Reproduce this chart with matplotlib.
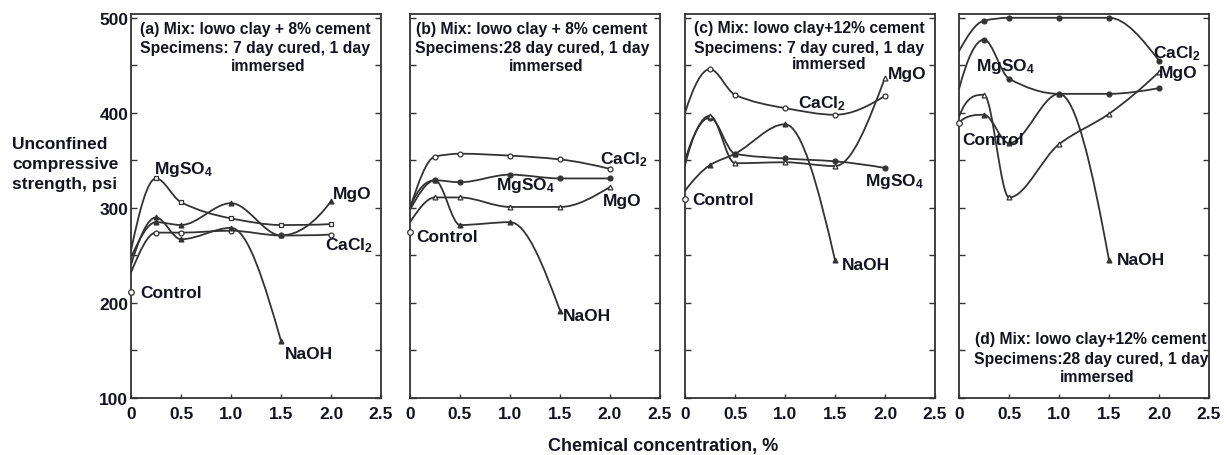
import numpy as np
import matplotlib.pyplot as plt
from matplotlib.path import Path
from matplotlib.patches import PathPatch
from matplotlib.ticker import MultipleLocator

plt.rcParams['font.family'] = ['Liberation Sans', 'DejaVu Sans']
plt.rcParams['font.weight'] = 'bold'
plt.rcParams['mathtext.fontset'] = 'custom'
plt.rcParams['mathtext.rm'] = 'Liberation Sans:bold'
plt.rcParams['mathtext.bf'] = 'Liberation Sans:bold'
plt.rcParams['mathtext.default'] = 'bf'

# chemical concentration, %
conc = [0, 0.25, 0.5, 1.0, 1.5, 2.0]

# unconfined compressive strength, psi
a_cacl2 = [232, 274, 274, 276, 271, 272]
a_mgso4 = [255, 331, 306, 289, 282, 283]
a_mgo = [248, 285, 282, 305, 271, 307]
a_naoh = [240, 290, 267, 279, 160]
a_control = 211

b_cacl2 = [300, 354, 357, 355, 351, 341]
b_mgso4 = [298, 329, 327, 335, 331, 331]
b_mgo = [285, 311, 311, 301, 301, 322]
b_naoh = [300, 329, 282, 285, 192]
b_control = 275

c_cacl2 = [400, 446, 419, 405, 398, 418]
c_mgso4 = [350, 395, 357, 352, 349, 342]
c_mgo = [345, 397, 347, 348, 344, 437]
c_naoh = [318, 345, 357, 388, 245]
c_control = 309

d_cacl2 = [465, 497, 500, 500, 500, 455]
d_mgso4 = [425, 477, 436, 420, 420, 426]
d_mgo = [396, 419, 311, 367, 399, 443]
d_naoh = [390, 398, 368, 420, 245]
d_control = 389

titles = [
    ['(a) Mix: lowo clay + 8% cement', 'Specimens: 7 day cured, 1 day', 'immersed'],
    ['(b) Mix: lowo clay + 8% cement', 'Specimens:28 day cured, 1 day', 'immersed'],
    ['(c) Mix: lowo clay+12% cement', 'Specimens: 7 day cured, 1 day', 'immersed'],
    ['(d) Mix: lowo clay+12% cement', 'Specimens:28 day cured, 1 day', 'immersed'],
]

LINE = '#333333'
INK = '#141420'


def slopes(x, y):
    # shape-preserving tangents (flat at local peaks and dips)
    h = np.diff(x)
    d = np.diff(y) / h
    n = len(x)
    m = np.zeros(n)
    for i in range(1, n - 1):
        if d[i - 1] * d[i] > 0:
            w1 = 2 * h[i] + h[i - 1]
            w2 = h[i] + 2 * h[i - 1]
            m[i] = (w1 + w2) / (w1 / d[i - 1] + w2 / d[i])
    m[0] = d[0]
    m[-1] = d[-1]
    if n > 2:
        m[0] = ((2 * h[0] + h[1]) * d[0] - h[0] * d[1]) / (h[0] + h[1])
        if np.sign(m[0]) != np.sign(d[0]):
            m[0] = 0
        elif np.sign(d[0]) != np.sign(d[1]) and abs(m[0]) > 3 * abs(d[0]):
            m[0] = 3 * d[0]
        m[-1] = ((2 * h[-1] + h[-2]) * d[-1] - h[-1] * d[-2]) / (h[-1] + h[-2])
        if np.sign(m[-1]) != np.sign(d[-1]):
            m[-1] = 0
        elif np.sign(d[-1]) != np.sign(d[-2]) and abs(m[-1]) > 3 * abs(d[-1]):
            m[-1] = 3 * d[-1]
    return m


def smooth(ax, x, y, marker, filled):
    # smooth curve through the points, drawn as a bezier path
    x = np.asarray(x, float)
    y = np.asarray(y, float)
    m = slopes(x, y)
    verts = [(x[0], y[0])]
    codes = [Path.MOVETO]
    for i in range(len(x) - 1):
        h = x[i + 1] - x[i]
        verts += [(x[i] + h / 3, y[i] + m[i] * h / 3),
                  (x[i + 1] - h / 3, y[i + 1] - m[i + 1] * h / 3),
                  (x[i + 1], y[i + 1])]
        codes += [Path.CURVE4] * 3
    ax.add_patch(PathPatch(Path(verts, codes), fill=False, ec=LINE, lw=1.3))
    ax.plot(x[1:], y[1:], ls='none', marker=marker, ms=3.5, mec=LINE, mew=0.9,
            mfc=LINE if filled else 'white', zorder=3)


fig = plt.figure(figsize=(12.27, 4.56), dpi=100)
lefts = [131, 410, 685, 959]
panels = [
    (a_cacl2, a_mgso4, a_mgo, a_naoh, a_control),
    (b_cacl2, b_mgso4, b_mgo, b_naoh, b_control),
    (c_cacl2, c_mgso4, c_mgo, c_naoh, c_control),
    (d_cacl2, d_mgso4, d_mgo, d_naoh, d_control),
]

# label positions (conc, psi) for each panel: CaCl2, MgSO4, MgO, NaOH, Control
label_pos = [
    [(1.94, 261), (0.23, 341), (2.02, 315), (1.54, 147), (0.09, 211)],
    [(1.90, 352), (0.86, 325), (1.93, 308), (1.53, 187), (0.06, 270)],
    [(1.13, 411), (1.80, 329), (2.03, 441), (1.57, 240), (0.07, 309)],
    [(1.94, 463), (0.17, 450), (2.00, 442), (1.58, 246), (0.03, 372)],
]
names = ['CaCl$_2$', 'MgSO$_4$', 'MgO', 'NaOH', 'Control']

# title positions in axes fraction: x of first two lines, x of last line, y of lines
title_pos = [
    (0.496, 0.548, [0.961, 0.914, 0.867]),
    (0.488, 0.544, [0.961, 0.914, 0.867]),
    (0.498, 0.576, [0.964, 0.914, 0.870]),
    (0.527, 0.551, [0.154, 0.104, 0.057]),
]

for k, (cacl2, mgso4, mgo, naoh, control) in enumerate(panels):
    ax = fig.add_axes([lefts[k] / 1227, 1 - 399 / 456, 250 / 1227, 384 / 456])
    ax.set_xlim(0, 2.5)
    ax.set_ylim(100, 504)

    smooth(ax, conc, cacl2, 'o', k == 3)
    smooth(ax, conc, mgso4, 's' if k == 0 else 'o', k != 0)
    smooth(ax, conc, mgo, '^', k == 0)
    smooth(ax, conc[:len(naoh)], naoh, '^', True)
    ax.plot([0], [control], ls='none', marker='o', ms=4, mec=LINE, mfc='white',
            mew=0.9, clip_on=False, zorder=4)

    for name, (lx, ly) in zip(names, label_pos[k]):
        ax.text(lx, ly, name, fontsize=12.5, fontweight='bold', color=INK,
                ha='left', va='center')

    tx, tx3, tys = title_pos[k]
    for j, line in enumerate(titles[k]):
        ax.text(tx3 if j == 2 else tx, tys[j], line, transform=ax.transAxes,
                fontsize=11.3, fontweight='bold', color=INK,
                ha='center', va='center')

    ax.yaxis.set_major_locator(MultipleLocator(100))
    ax.yaxis.set_minor_locator(MultipleLocator(50))
    ax.set_xticks([0, 0.5, 1.0, 1.5, 2.0, 2.5])
    ax.set_xticklabels(['0', '0.5', '1.0', '1.5', '2.0', '2.5'])
    ax.tick_params(axis='x', direction='in', length=3, width=1, color=LINE,
                   labelsize=12.5, pad=6, labelcolor=INK)
    ax.tick_params(axis='y', which='both', direction='in', length=4, width=1,
                   color=LINE, left=True, right=True, labelsize=12.5, pad=2,
                   labelcolor=INK)
    if k != 0:
        ax.tick_params(axis='y', labelleft=False)
    for s in ax.spines.values():
        s.set_color(LINE)
        s.set_linewidth(1.3)

fig.text(12 / 1227, 1 - 145 / 456, 'Unconfined', fontsize=12.5, fontweight='bold',
         color=INK, ha='left', va='center')
fig.text(12 / 1227, 1 - 165 / 456, 'compressive', fontsize=12.5, fontweight='bold',
         color=INK, ha='left', va='center')
fig.text(12 / 1227, 1 - 185 / 456, 'strength, psi', fontsize=12.5, fontweight='bold',
         color=INK, ha='left', va='center')
fig.text(663 / 1227, 1 - 447 / 456, 'Chemical concentration, %', fontsize=13,
         fontweight='bold', color=INK, ha='center', va='center')

fig.savefig('out.png', dpi=100)
